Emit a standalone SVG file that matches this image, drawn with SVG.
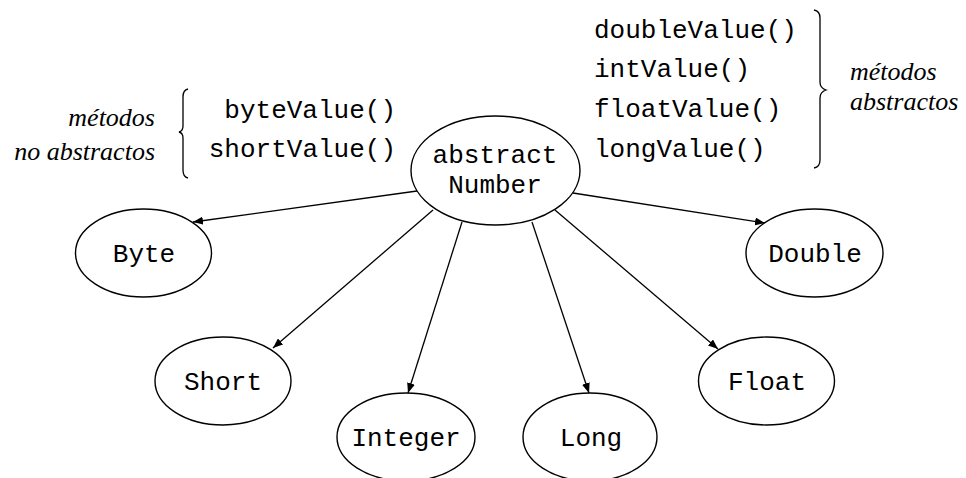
<svg xmlns="http://www.w3.org/2000/svg" width="966" height="478" viewBox="0 0 966 478">
<style>
.node ellipse{fill:#fff;stroke:#000;stroke-width:1.4}
.mono{font-family:"Liberation Mono","Courier New",monospace;font-size:26px;fill:#000}
.ital{font-family:"Liberation Serif","Times New Roman",serif;font-style:italic;font-size:26px;fill:#000}
.edge{stroke:#000;stroke-width:1.3;fill:none;marker-end:url(#arr)}
.brace{stroke:#000;stroke-width:1.3;fill:none}
</style>
<defs>
<marker id="arr" viewBox="0 0 10 8" refX="10" refY="4" markerWidth="10" markerHeight="8" markerUnits="userSpaceOnUse" orient="auto">
<path d="M0,0 L10,4 L0,8 Z" fill="#000"/>
</marker>
</defs>
<rect width="966" height="478" fill="#fff"/>
<g id="connectors">
<line class="edge" x1="417" y1="191" x2="193" y2="222"/>
<line class="edge" x1="433" y1="210" x2="273" y2="348"/>
<line class="edge" x1="462" y1="222" x2="408" y2="393"/>
<line class="edge" x1="532" y1="222" x2="589" y2="393"/>
<line class="edge" x1="555" y1="210" x2="718" y2="349"/>
<line class="edge" x1="573" y1="193" x2="765" y2="223"/>
</g>
<g id="number" class="node">
<ellipse cx="495.5" cy="170.5" rx="84.5" ry="54.5"/>
<text class="mono" x="495" y="163" text-anchor="middle">abstract</text>
<text class="mono" x="495" y="193" text-anchor="middle">Number</text>
</g>
<g id="byte" class="node">
<ellipse cx="143.5" cy="253" rx="68" ry="44"/>
<text class="mono" x="144" y="262" text-anchor="middle">Byte</text>
</g>
<g id="short" class="node">
<ellipse cx="223" cy="381" rx="68" ry="44"/>
<text class="mono" x="223" y="390" text-anchor="middle">Short</text>
</g>
<g id="integer" class="node">
<ellipse cx="406" cy="437" rx="69" ry="44"/>
<text class="mono" x="406" y="446" text-anchor="middle">Integer</text>
</g>
<g id="long" class="node">
<ellipse cx="590" cy="437" rx="67" ry="44"/>
<text class="mono" x="591" y="446" text-anchor="middle">Long</text>
</g>
<g id="float" class="node">
<ellipse cx="766.5" cy="381" rx="68" ry="44"/>
<text class="mono" x="767" y="390" text-anchor="middle">Float</text>
</g>
<g id="double" class="node">
<ellipse cx="814.5" cy="253" rx="68.5" ry="44"/>
<text class="mono" x="815" y="262" text-anchor="middle">Double</text>
</g>
<g id="non-abstract-methods">
<text class="mono" x="396" y="118" text-anchor="end">byteValue()</text>
<text class="mono" x="396" y="157" text-anchor="end">shortValue()</text>
<path class="brace" d="M188,89 Q183,90 183,97 L183,126 Q183,131 179,132 Q183,133 183,138 L183,170 Q183,177 188,178"/>
<text class="ital" x="155" y="126" text-anchor="end">métodos</text>
<text class="ital" x="155" y="160" text-anchor="end">no abstractos</text>
</g>
<g id="abstract-methods">
<text class="mono" x="594" y="38">doubleValue()</text>
<text class="mono" x="594" y="77">intValue()</text>
<text class="mono" x="594" y="117">floatValue()</text>
<text class="mono" x="594" y="157">longValue()</text>
<path class="brace" d="M814,10 Q820,11 820,18 L820,82 Q820,88 826,90 Q820,92 820,98 L820,160 Q820,167 814,168"/>
<text class="ital" x="850" y="80">métodos</text>
<text class="ital" x="850" y="110">abstractos</text>
</g>
</svg>
